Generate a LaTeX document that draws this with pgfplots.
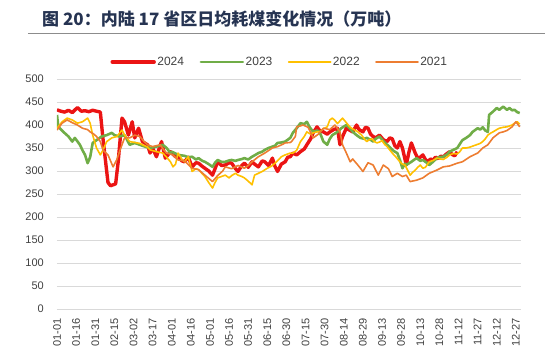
\documentclass[border=0pt]{standalone}
\usepackage{pgfplots}
\pgfplotsset{compat=1.18}
\usepackage{fontspec}
\setmainfont{Liberation Sans}
\newfontfamily\cjk{Noto Sans CJK SC}
\definecolor{c24}{RGB}{235,20,20}
\definecolor{c23}{RGB}{112,173,71}
\definecolor{c22}{RGB}{255,192,0}
\definecolor{c21}{RGB}{237,125,49}
\definecolor{titlec}{RGB}{38,52,82}
\definecolor{tickc}{RGB}{64,64,64}
\begin{document}
\begin{tikzpicture}[x=1pt,y=1pt]
\begin{axis}[
  at={(0pt,0pt)}, anchor=south west,
  scale only axis, width=464pt, height=230pt,
  xmin=0, xmax=364, ymin=0, ymax=500,
  ytick={0,50,...,500},
  xtick={0,15,...,360},
  xticklabels={01-01,01-16,01-31,02-15,03-02,03-17,04-01,04-16,05-01,05-16,05-31,06-15,06-30,07-15,07-30,08-14,08-29,09-13,09-28,10-13,10-28,11-12,11-27,12-12,12-27},
  ymajorgrids, grid style={color=black!15, line width=0.9pt},
  axis line style={draw=none}, tick style={draw=none},
  major tick length=0pt,
  /pgf/number format/assume math mode=true,
  yticklabel style={font=\fontsize{11}{13}\selectfont, text=tickc, anchor=east, inner sep=0pt},
  yticklabel shift=13pt,
  xticklabel style={font=\fontsize{11}{13}\selectfont, text=tickc, rotate=90, anchor=east, inner sep=0pt},
  xticklabel shift=9pt,
  legend columns=4,
  legend style={at={(0.4795,1.074)}, anchor=center, draw=none, fill=none, inner sep=0pt,
    font=\fontsize{12}{14}\selectfont, text=tickc,
    nodes={inner sep=1.5pt},
    /tikz/every even column/.append style={column sep=14pt}},
  legend image code/.code={\draw[#1, line cap=round] (0pt,0pt) -- (42pt,0pt);},
]
\addplot[color=c24, line width=3.4pt, line join=round] coordinates {
(0,433)(3,430)(6,428)(9,432)(12,427)(16,438)(19,430)(22,431)(25,429)(28,432)(31,430)(34,428)(36,372)(39,299)(40,275)(42,268)(44,270)(46,272)(48,320)(51,415)(53,407)(56,378)(59,407)(61,372)(64,393)(67,364)(71,357)(73,339)(75,350)(78,331)(82,364)(85,328)(89,342)(93,331)(95,331)(98,322)(100,320)(103,330)(106,309)(109,318)(111,317)(114,310)(116,306)(119,300)(122,291)(124,305)(126,320)(129,312)(132,313)(135,318)(137,317)(140,305)(142,299)(145,312)(147,317)(150,308)(153,320)(155,315)(158,309)(161,322)(163,320)(166,312)(169,328)(171,310)(173,299)(176,315)(179,320)(181,330)(183,331)(185,339)(188,335)(191,342)(194,348)(196,357)(199,370)(201,383)(204,396)(206,388)(209,385)(212,380)(214,385)(217,390)(220,393)(222,357)(224,375)(227,393)(230,388)(232,385)(235,400)(237,390)(240,385)(242,395)(244,393)(246,380)(248,375)(250,372)(253,378)(256,368)(259,364)(261,372)(263,370)(265,355)(267,350)(269,364)(271,350)(274,313)(276,340)(278,361)(281,339)(283,328)(285,330)(287,335)(289,325)(291,320)(293,326)(295,324)(297,330)(299,327)(301,332)(303,331)(306,338)(308,342)(310,336)(312,333)(314,342)
};
\addlegendentry{2024}
\addplot[color=c23, line width=2.6pt, line join=round] coordinates {
(0,422)(1,396)(5,385)(9,375)(12,364)(14,372)(18,357)(20,345)(22,335)(24,317)(26,330)(28,361)(31,367)(35,375)(39,378)(43,383)(45,378)(49,375)(53,378)(57,357)(61,361)(65,357)(69,353)(73,350)(78,353)(83,357)(86,350)(89,339)(90,342)(93,338)(95,335)(100,333)(103,330)(106,331)(109,325)(111,328)(114,322)(116,320)(119,315)(122,309)(124,318)(126,324)(129,320)(132,320)(135,323)(137,324)(140,322)(142,324)(145,326)(147,328)(150,325)(153,331)(155,334)(158,339)(161,342)(163,346)(166,350)(169,353)(171,355)(173,361)(176,362)(179,364)(183,372)(185,383)(188,393)(191,404)(194,402)(196,407)(198,396)(201,385)(204,388)(206,385)(209,364)(212,357)(214,370)(216,378)(220,385)(223,393)(227,400)(230,392)(232,385)(235,378)(238,372)(241,370)(243,372)(246,368)(248,364)(250,370)(253,375)(256,365)(259,357)(261,352)(263,346)(265,342)(267,339)(269,324)(271,306)(273,316)(274,313)(278,320)(280,324)(282,328)(285,322)(287,324)(290,318)(292,313)(295,320)(298,328)(300,330)(303,331)(306,336)(308,342)(311,346)(314,350)(318,367)(321,372)(324,378)(326,385)(330,393)(332,390)(334,395)(336,388)(338,385)(339,422)(342,429)(345,437)(347,433)(350,440)(353,433)(355,437)(357,432)(359,433)(361,428)(363,426)
};
\addlegendentry{2023}
\addplot[color=c22, line width=1.6pt, line join=round] coordinates {
(0,393)(4,407)(8,415)(12,411)(16,404)(20,407)(24,415)(26,404)(28,378)(31,350)(34,335)(36,345)(39,364)(43,372)(47,375)(51,389)(53,378)(57,364)(61,362)(65,360)(67,357)(71,352)(73,346)(78,342)(83,339)(86,330)(89,320)(91,309)(93,315)(95,339)(98,325)(100,320)(103,331)(106,299)(109,305)(111,303)(114,294)(116,288)(119,275)(122,263)(124,275)(126,285)(129,288)(132,291)(135,285)(137,290)(140,295)(142,291)(145,288)(147,285)(150,278)(153,270)(155,291)(158,295)(161,299)(165,306)(168,310)(171,317)(174,325)(176,331)(179,335)(183,339)(185,339)(188,345)(191,364)(194,375)(196,385)(199,380)(201,383)(204,385)(206,385)(209,392)(212,396)(214,411)(216,415)(218,410)(220,403)(224,415)(227,405)(229,398)(231,393)(233,390)(236,385)(239,378)(241,370)(243,364)(245,368)(247,370)(249,364)(251,361)(253,363)(255,366)(257,358)(259,353)(261,346)(263,339)(266,330)(269,320)(271,315)(273,313)(275,302)(277,291)(279,297)(281,302)(283,308)(285,313)(287,306)(289,308)(292,320)(295,323)(298,328)(301,326)(303,325)(306,330)(308,335)(311,338)(314,337)(316,342)(318,350)(321,350)(324,352)(327,355)(329,357)(332,360)(334,364)(336,370)(338,378)(340,382)(342,385)(345,390)(347,393)(350,395)(353,396)(355,398)(357,400)(359,404)(361,407)(363,402)
};
\addlegendentry{2022}
\addplot[color=c21, line width=1.6pt, line join=round] coordinates {
(0,389)(4,404)(8,411)(12,405)(16,400)(20,393)(24,390)(26,385)(29,380)(31,375)(34,364)(36,346)(40,335)(44,309)(47,325)(49,342)(53,372)(57,372)(61,378)(65,375)(68,365)(71,357)(75,353)(78,355)(81,357)(84,345)(86,339)(91,335)(95,324)(100,322)(106,306)(111,303)(116,291)(122,277)(126,290)(130,300)(132,309)(137,305)(142,312)(147,306)(150,312)(153,320)(158,331)(163,339)(169,350)(173,353)(177,358)(179,361)(183,362)(184,364)(187,375)(188,396)(191,398)(193,400)(197,395)(201,372)(205,380)(209,393)(214,390)(218,400)(222,385)(224,357)(227,339)(230,320)(232,326)(236,313)(240,299)(244,318)(248,313)(252,291)(256,313)(260,305)(263,288)(267,295)(271,288)(274,291)(277,277)(282,280)(287,285)(292,295)(298,302)(303,309)(308,311)(314,317)(318,320)(324,331)(330,339)(334,350)(338,357)(342,372)(347,383)(350,385)(353,388)(357,396)(360,407)(363,396)
};
\addlegendentry{2021}
\end{axis}
\path (-57,-53) rectangle (493,309);
\node[anchor=west, inner sep=0pt, font=\cjk\bfseries\fontsize{17}{20}\selectfont, text=titlec] at (-15,290) {图 20：内陆 17 省区日均耗煤变化情况（万吨）};
\draw[color=black!45, line width=1pt] (-29,275) -- (488,275);
\end{tikzpicture}
\end{document}
